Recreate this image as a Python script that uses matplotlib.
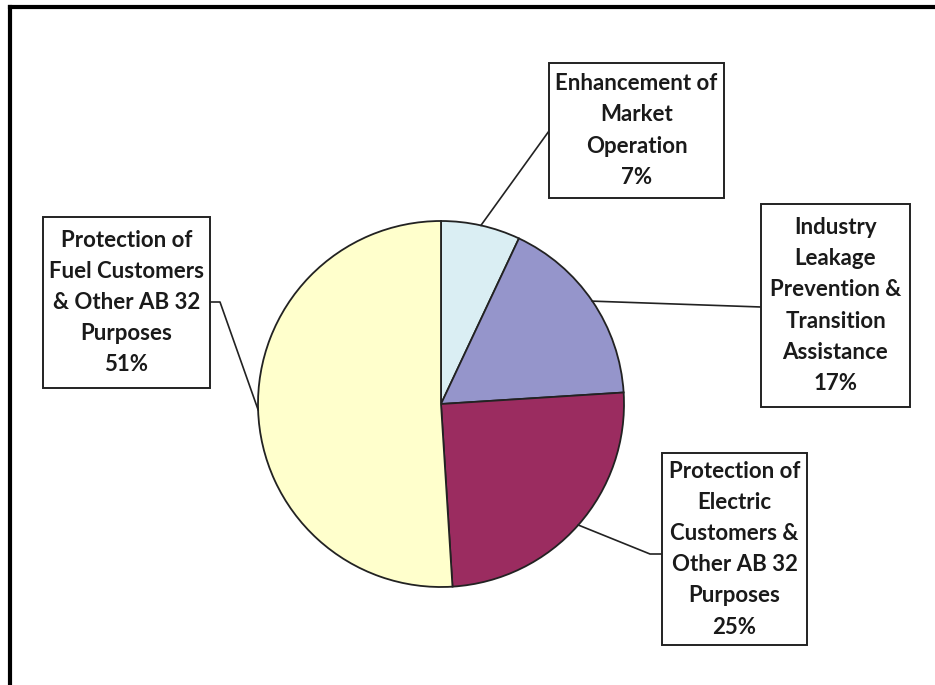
import numpy as np
import matplotlib.pyplot as plt

# allocation shares (percent), clockwise from 12 o'clock
categories = ["Enhancement of\nMarket\nOperation",
              "Industry\nLeakage\nPrevention &\nTransition\nAssistance",
              "Protection of\nElectric\nCustomers &\nOther AB 32\nPurposes",
              "Protection of\nFuel Customers\n& Other AB 32\nPurposes"]
shares = [7, 17, 25, 51]
colors = ["#DAEEF3", "#9595CB", "#9B2C60", "#FFFFCC"]

W, H = 935, 685
fig = plt.figure(figsize=(W / 100, H / 100), dpi=100)
ax = fig.add_axes([0, 0, 1, 1])

# work in pixel-like units, y measured from the top
def Y(py):
    return H - py

cx, cy, r = 441, 404, 183
wedges, _ = ax.pie(shares, colors=colors, startangle=90, counterclock=False,
                   radius=r, center=(cx, Y(cy)),
                   wedgeprops=dict(edgecolor="#222222", linewidth=1.3))
ax.set_xlim(0, W)
ax.set_ylim(0, H)
ax.set_aspect("equal")
ax.axis("off")

# label boxes: (left, top, right, bottom) and leader path from the wedge
boxes = [(549, 63, 724, 198), (761, 204, 910, 407),
         (662, 453, 807, 645), (43, 217, 210, 388)]
elbows = [[(549, 131)],
          [(761, 307)],
          [(650, 554), (662, 554)],
          [(220, 302), (210, 302)]]

for w, lab, sh, (x0, y0, x1, y1), pts in zip(wedges, categories, shares, boxes, elbows):
    ang = np.deg2rad((w.theta1 + w.theta2) / 2)
    sx = cx + r * np.cos(ang)
    sy = Y(cy) + r * np.sin(ang)
    xs = [sx] + [p[0] for p in pts]
    ys = [sy] + [Y(p[1]) for p in pts]
    ax.plot(xs, ys, color="#222222", lw=1.2, zorder=1)
    ax.add_patch(plt.Rectangle((x0, Y(y1)), x1 - x0, y1 - y0, facecolor="white",
                               edgecolor="#222222", lw=1.4, zorder=2))
    ax.text((x0 + x1) / 2, Y((y0 + y1) / 2), f"{lab}\n{sh}%", ha="center", va="center",
            fontsize=16, fontweight="bold", family="Lato", linespacing=1.6,
            color="#1a1a1a", zorder=3)

# open frame on the top and left
ax.plot([10, 10], [Y(7), 0], color="black", lw=3, solid_capstyle="projecting")
ax.plot([10, W], [Y(7), Y(7)], color="black", lw=3, solid_capstyle="projecting")

fig.savefig("out.png", dpi=100)
